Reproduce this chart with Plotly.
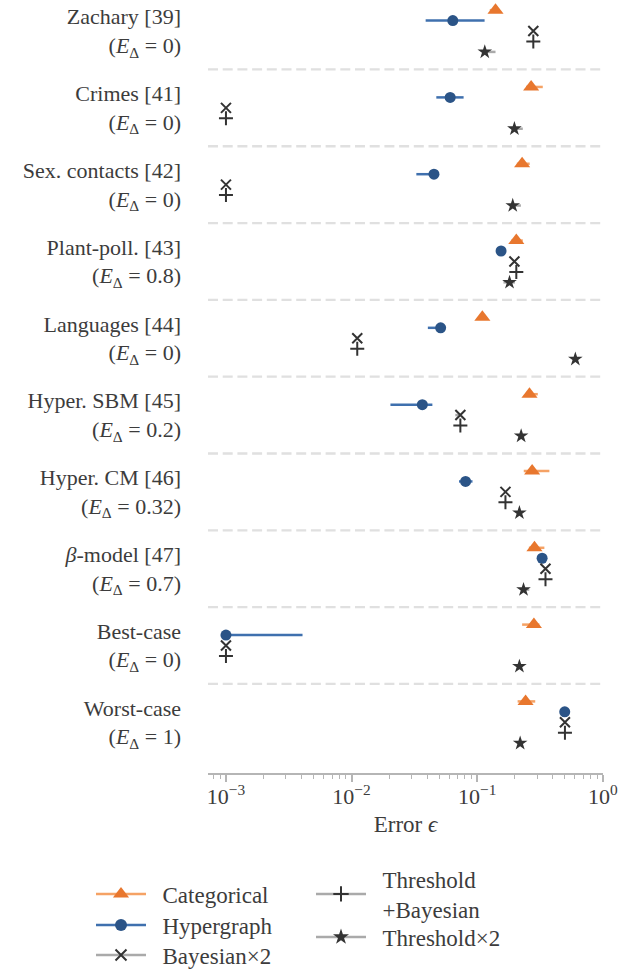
import plotly.graph_objects as go

# ---------------- data ----------------
datasets = ["Zachary [39]", "Crimes [41]", "Sex. contacts [42]", "Plant-poll. [43]",
            "Languages [44]", "Hyper. SBM [45]", "Hyper. CM [46]", "<i>β</i>-model [47]",
            "Best-case", "Worst-case"]
e_delta = ["0", "0", "0", "0.8", "0", "0.2", "0.32", "0.7", "0", "1"]

cat_val = [0.140, 0.269, 0.228, 0.205, 0.110, 0.261, 0.274, 0.286, 0.283, 0.243]
cat_lo  = [0.126, 0.245, 0.207, 0.187, 0.108, 0.255, 0.235, 0.258, 0.228, 0.210]
cat_hi  = [0.145, 0.333, 0.262, 0.231, 0.119, 0.304, 0.376, 0.343, 0.313, 0.290]

hyp_val = [0.064, 0.061, 0.0453, 0.155, 0.0512, 0.0366, 0.0809, 0.329, 0.001, 0.498]
hyp_lo  = [0.0389, 0.0473, 0.0328, 0.150, 0.0405, 0.0204, 0.0717, 0.325, 0.001, 0.495]
hyp_hi  = [0.1146, 0.078, 0.0453, 0.168, 0.0512, 0.044, 0.0918, 0.333, 0.00407, 0.500]

bay_val = [0.280, 0.001, 0.001, 0.198, 0.0111, 0.0735, 0.168, 0.350, 0.001, 0.500]
bay_lo  = [0.280, 0.001, 0.001, 0.198, 0.0111, 0.0670, 0.168, 0.350, 0.001, 0.500]
bay_hi  = [0.280, 0.001, 0.001, 0.198, 0.0111, 0.0735, 0.168, 0.350, 0.001, 0.500]

tb_val = [0.280, 0.001, 0.001, 0.205, 0.0111, 0.0735, 0.168, 0.350, 0.001, 0.500]
tb_lo  = [0.280, 0.001, 0.001, 0.205, 0.0111, 0.0735, 0.168, 0.350, 0.001, 0.500]
tb_hi  = [0.280, 0.001, 0.001, 0.205, 0.0111, 0.0735, 0.168, 0.350, 0.001, 0.500]

th_val = [0.115, 0.198, 0.192, 0.181, 0.605, 0.224, 0.217, 0.234, 0.217, 0.220]
th_lo  = [0.115, 0.187, 0.181, 0.162, 0.595, 0.220, 0.213, 0.232, 0.214, 0.217]
th_hi  = [0.140, 0.231, 0.223, 0.200, 0.615, 0.228, 0.222, 0.260, 0.222, 0.224]

series_names = ["Categorical", "Hypergraph", "Bayesian×2", "Threshold<br>+Bayesian", "Threshold×2"]

# ---------------- styles ----------------
FONT = "Liberation Serif"
TXT = "#3c3c3c"
DARK = "#333333"
GREY = "#aaaaaa"
styles = [
    dict(symbol="triangle-up", size=14, color="#e8772e", line=dict(width=0), err="#f5a265"),
    dict(symbol="circle", size=11, color="#2b5487", line=dict(width=0), err="#3f70ae"),
    dict(symbol="x-thin", size=10, color=DARK, line=dict(width=2, color=DARK), err=GREY),
    dict(symbol="cross-thin", size=10, color=DARK, line=dict(width=2, color=DARK), err=GREY),
    dict(symbol="star", size=11, color=DARK, line=dict(width=0), err=GREY),
]
OFFSET = 0.136
n = len(datasets)

fig = go.Figure()
all_series = [(cat_val, cat_lo, cat_hi), (hyp_val, hyp_lo, hyp_hi), (bay_val, bay_lo, bay_hi),
              (tb_val, tb_lo, tb_hi), (th_val, th_lo, th_hi)]
for k, ((v, lo, hi), st) in enumerate(zip(all_series, styles)):
    ys = [i + (k - 2) * OFFSET for i in range(n)]
    fig.add_trace(go.Scatter(
        x=v, y=ys, mode="markers", showlegend=False,
        marker=dict(symbol=st["symbol"], size=st["size"], color=st["color"], line=st["line"]),
        error_x=dict(type="data", symmetric=False,
                     array=[h - a for h, a in zip(hi, v)],
                     arrayminus=[a - l for a, l in zip(v, lo)],
                     color=st["err"], thickness=2.5, width=0),
    ))

# legend entries: one small legend per entry, laid out in two columns
legend_ids = ["legend", "legend2", "legend3", "legend4", "legend5"]
legend_pos = [(91, 894), (91, 925), (91, 955), (311, 894), (311, 937)]  # (x px, centre y px)
PAD = "\u00a0\u00a0"
for name, st, lid in zip(series_names, styles, legend_ids):
    label = "<br>".join(PAD + part for part in name.split("<br>"))
    fig.add_trace(go.Scatter(
        x=[None], y=[None], mode="lines+markers", name=label,
        line=dict(color=st["err"], width=2.5),
        marker=dict(symbol=st["symbol"], size=st["size"] + (1 if st["symbol"] != "triangle-up" else 0),
                    color=st["color"], line=st["line"]),
        legend=lid,
    ))

# dashed separators
for i in range(n - 1):
    fig.add_shape(type="line", xref="paper", yref="y", x0=0, x1=1, y0=i + 0.5, y1=i + 0.5,
                  line=dict(color="#e0e0e0", width=2.3, dash="10px,4.7px"), layer="below")

minor_vals = [m * 10 ** e for e in range(-4, 0) for m in range(2, 10)]

legend_layouts = {}
for lid, (lx, ly) in zip(legend_ids, legend_pos):
    legend_layouts[lid] = dict(
        xref="container", yref="container", x=lx / 618, y=1 - ly / 969,
        xanchor="left", yanchor="middle", bgcolor="rgba(0,0,0,0)",
        font=dict(family=FONT, size=23, color=TXT), itemwidth=50, tracegroupgap=0)

fig.update_layout(
    template="none",
    width=618, height=969,
    margin=dict(l=208, r=15, t=0, b=196, autoexpand=False),
    plot_bgcolor="white", paper_bgcolor="white",
    font=dict(family=FONT, size=22, color=TXT),
    xaxis=dict(
        type="log", range=[-3.143, 0.002], automargin=False,
        tickmode="array", tickvals=[0.001, 0.01, 0.1, 1],
        ticktext=["10<sup>−3</sup>", "10<sup>−2</sup>", "10<sup>−1</sup>", "10<sup>0</sup>"],
        tickangle=0,
        ticks="outside", ticklen=7, tickwidth=1.5, tickcolor="#b5b5b5",
        showline=True, linecolor="#b5b5b5", linewidth=2,
        showgrid=False, zeroline=False,
        ticklabelstandoff=-4,
        tickfont=dict(family=FONT, size=22, color=TXT),
        minor=dict(tickmode="array", tickvals=minor_vals, ticks="outside", ticklen=4,
                   tickwidth=1.2, tickcolor="#b5b5b5", showgrid=False),
        title=dict(text="Error <i>ϵ</i>", font=dict(family=FONT, size=23, color=TXT), standoff=7),
    ),
    yaxis=dict(
        range=[9.66, -0.404], autorange=False, automargin=False,
        tickmode="array", tickvals=list(range(n)),
        ticktext=[f"{d}<br>(<i>E</i><sub>Δ</sub> = {e})" for d, e in zip(datasets, e_delta)],
        showline=False, showgrid=False, zeroline=False, ticks="",
        ticklabelstandoff=26,
        tickfont=dict(family=FONT, size=22, color=TXT),
    ),
    **legend_layouts,
)

fig.write_html("out.html")
